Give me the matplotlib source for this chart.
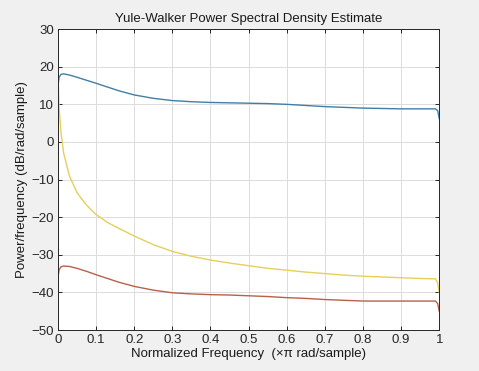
import matplotlib
matplotlib.use("Agg")
import matplotlib.pyplot as plt

# Normalized frequency (x pi rad/sample) sample points
freq = [0.0, 0.003, 0.008, 0.015, 0.03, 0.05, 0.075, 0.1, 0.13, 0.16, 0.2,
        0.25, 0.3, 0.35, 0.4, 0.45, 0.5, 0.55, 0.6, 0.65, 0.7, 0.75, 0.8,
        0.85, 0.9, 0.95, 0.99, 0.996, 1.0]

# PSD estimates (dB/rad/sample)
psd_blue = [15.0, 17.2, 18.0, 18.1, 17.8, 17.2, 16.4, 15.6, 14.6, 13.6, 12.5,
            11.6, 11.0, 10.7, 10.5, 10.4, 10.3, 10.2, 10.0, 9.7, 9.4, 9.2, 9.0,
            8.9, 8.8, 8.8, 8.8, 8.3, 6.2]
psd_yellow = [18.0, 9.0, 2.5, -3.0, -9.0, -13.5, -16.8, -19.3, -21.4, -23.0, -25.0,
              -27.3, -29.1, -30.4, -31.4, -32.2, -32.9, -33.6, -34.1, -34.6, -35.0, -35.4, -35.7,
              -35.9, -36.1, -36.3, -36.4, -37.5, -40.0]
psd_red = [-36.0, -34.0, -33.2, -33.0, -33.1, -33.6, -34.4, -35.3, -36.3, -37.3, -38.4,
           -39.4, -40.1, -40.4, -40.6, -40.7, -40.9, -41.1, -41.4, -41.6, -41.9, -42.1, -42.3,
           -42.3, -42.3, -42.3, -42.3, -43.0, -45.0]

plt.rcParams['font.family'] = ['Liberation Sans', 'DejaVu Sans']

fig = plt.figure(figsize=(4.79, 3.71), dpi=100, facecolor='#f0f0f0')
ax = fig.add_axes([0.121, 0.1105, 0.796, 0.811])
ax.set_facecolor('white')

ax.plot(freq, psd_blue, color='#3f7fa6', lw=1.0)
ax.plot(freq, psd_red, color='#b8614a', lw=1.0)
ax.plot(freq, psd_yellow, color='#e6cf5a', lw=1.0)

ax.set_xlim(0, 1)
ax.set_ylim(-50, 30)
ax.set_xticks([i / 10 for i in range(11)])
ax.set_xticklabels(['0', '0.1', '0.2', '0.3', '0.4', '0.5', '0.6', '0.7', '0.8', '0.9', '1'])
ax.set_yticks(range(-50, 31, 10))
ax.grid(True, color='#dcdcdc', lw=0.7)
ax.set_axisbelow(True)
ax.tick_params(direction='in', top=True, right=True, length=3, width=0.7,
               labelsize=9.5, colors='#262626', pad=3)
for s in ax.spines.values():
    s.set_color('#262626')
    s.set_linewidth(0.7)

ax.set_title('Yule-Walker Power Spectral Density Estimate', fontsize=9.5, color='#1a1a1a', pad=5)
ax.set_xlabel('Normalized Frequency  (\u00d7\u03c0 rad/sample)', fontsize=9.5, color='#1a1a1a', labelpad=1)
ax.set_ylabel('Power/frequency (dB/rad/sample)', fontsize=9.5, color='#1a1a1a', labelpad=2)

fig.savefig('out.png', dpi=100, facecolor=fig.get_facecolor())
